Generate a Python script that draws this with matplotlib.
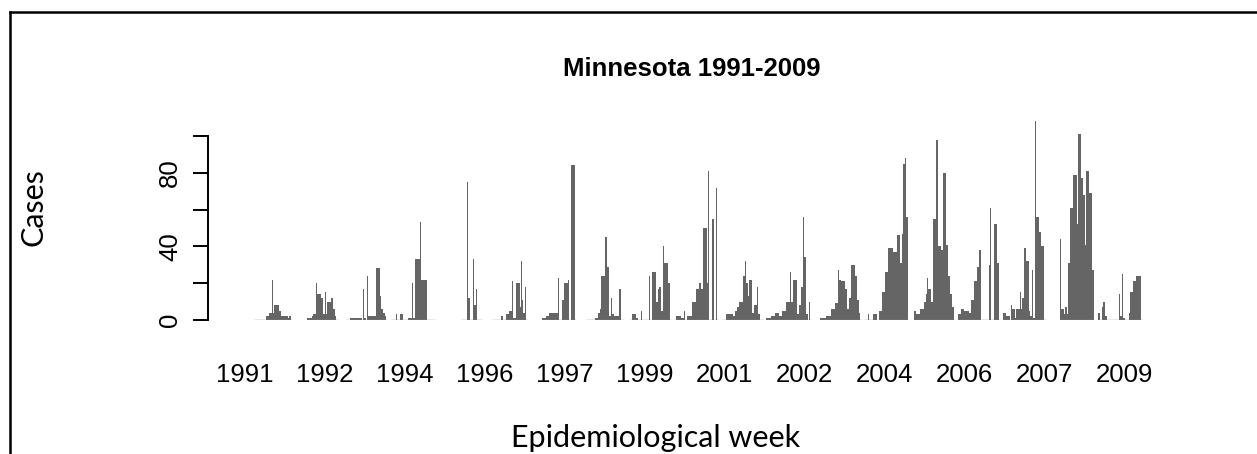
import numpy as np
import matplotlib.pyplot as plt
from matplotlib.lines import Line2D

plt.rcParams['font.family'] = ['Liberation Sans', 'DejaVu Sans']

# weekly influenza cases, one list per season (one value per epidemiological week)
season_01 = [0,0,0,0,0,0,0,0,0,0,0,0,2,2,2,4,4,4,22,4,8,8,8,8,8,5,5,2,2,2,2,2,2,2,1,2,2,0]
season_02 = [1,1,1,1,1,2,3,3,3,20,14,14,14,14,12,12,3,3,15,3,10,10,10,10,12,12,6,6,2,0,0]
season_03 = [0,0,0,0,1,1,1,1,1,1,1,1,1,1,1,1,0,17,1,1,0,24,2,2,2,2,2,2,2,2,28,28,28,28,13,6,6,4,4,2,0]
season_04 = [0,0,0,0,0,3,0,0,0,3,3,3,0,0,0,0,0,1,1,1,1,20,1,1,33,33,33,33,33,53,22,22,22,22,22,22,0,0,0,0,0,0,0,0]
season_05 = [0,0,0,0,0,0,75,12,12,0,0,0,33,8,8,17,0,0,0,0,0]
season_06 = [0,0,0,0,0,0,0,0,0,2,2,0,0,0,3,3,3,5,5,5,21,1,1,1,20,20,20,20,7,32,11,4,4,18,0,0]
season_07 = [1,1,1,1,2,2,2,4,4,4,4,4,4,4,4,4,23,0,0,0,11,11,20,20,20,20,22,0,0,84,84,84,84,0]
season_08 = [0,0,0,0,0,0,0,0,0,1,1,1,4,4,6,24,24,24,24,45,45,29,29,2,2,12,3,3,2,2,2,2,2,17,17,0,0]
season_09 = [0,0,3,3,3,3,1,1,0,0,0,5,0,0,0,0,0,0,0,24,0,0,26,26,26,26,10,10,17,18,18,5,5,40,31,31,31,31,20,20,0]
season_10 = [0,0,2,2,2,2,2,1,1,1,5,0,0,2,2,2,2,2,10,10,10,10,17,17,17,20,20,17,17,50,50,50,50,20,81,0,0,0,55,55,0,0,72,0]
season_11 = [0,0,0,0,0,3,3,3,3,3,3,3,2,2,5,5,7,7,10,10,10,10,24,24,32,20,20,13,22,22,22,4,4,8,8,8,18,3,3,0,0,0]
season_12 = [1,1,1,1,1,2,2,2,2,4,4,4,4,2,2,2,5,5,5,5,10,10,10,10,26,10,10,22,22,22,22,3,3,8,8,18,18,56,34,34,3,3,0,10,0]
season_13 = [1,1,1,1,1,1,2,2,2,2,2,6,6,6,6,9,9,9,27,22,22,21,21,21,21,17,17,6,6,12,12,30,30,30,30,24,24,11,11,4,0]
season_14 = [0,0,0,0,3,0,0,0,0,3,3,3,3,0,0,5,5,5,15,15,15,26,26,26,39,39,39,39,39,37,37,37,37,46,46,46,31,31,47,85,85,88,56,56]
season_15 = [5,5,3,3,3,3,6,6,6,6,10,10,14,23,17,17,17,10,10,55,55,55,98,98,40,40,40,38,38,80,80,80,41,41,24,24,14,14,7,7,0]
season_16 = [3,3,3,6,6,6,5,5,5,5,5,4,4,11,11,11,21,21,21,29,29,38,38,0,0,0,0,0,0,0,0,30,61,0,0,0,52,52,52,31,31,0]
season_17 = [4,4,4,2,2,2,2,0,8,6,6,6,1,6,6,6,6,15,6,12,12,39,39,32,32,32,5,2,2,27,1,1,108,56,56,56,48,48,40,40,40,0,0]
season_18 = [44,6,6,6,3,7,7,3,31,31,61,61,61,79,79,79,79,52,101,101,101,77,77,68,68,41,81,81,81,69,69,69,27,27]
season_19 = [4,4,0,0,7,10,10,2,2,0,0,0,0,0,0,0,0,0,0,0,0,14,2,2,25,1,1,0,0,0,0,4,15,15,15,21,21,21,24,24,24,24,24,0]

seasons = [season_01, season_02, season_03, season_04, season_05, season_06, season_07,
           season_08, season_09, season_10, season_11, season_12, season_13, season_14,
           season_15, season_16, season_17, season_18, season_19]

# week (counted from the first labelled bar) at which reporting starts each season
season_start = [10, 63, 102, 147, 217, 248, 298, 342, 386, 430, 477, 522, 576, 620, 670, 714, 759, 816, 854]

# R only kept every ~80th bar name
year_labels = ['1991', '1992', '1994', '1996', '1997', '1999', '2001', '2002',
               '2004', '2006', '2007', '2009']
label_every = 80

bar_color = '#656565'

fig = plt.figure(figsize=(12.57, 4.54), dpi=100)
ax = fig.add_axes([208 / 1257, (454 - 320) / 454, 968 / 1257, (320 - 117.6) / 454])

for start, vals in zip(season_start, seasons):
    x = start + np.arange(len(vals))
    ax.bar(x, vals, width=1.0, align='edge', color=bar_color, linewidth=0)
    ax.hlines(0, start, start + len(vals), color='#8a8a8a', linewidth=1.0)

ax.set_xlim(-36, 932)
ax.set_ylim(0, 110)

for side in ['top', 'right', 'bottom']:
    ax.spines[side].set_visible(False)
ax.spines['left'].set_bounds(0, 100)
ax.spines['left'].set_linewidth(1.4)

ax.set_yticks([0, 20, 40, 60, 80, 100])
ax.set_yticklabels(['0', '', '40', '', '80', ''])
ax.tick_params(axis='y', length=10.8, width=1.4, labelsize=18.5, labelrotation=90, pad=8)
for lab in ax.get_yticklabels():
    lab.set_verticalalignment('center')

ax.set_xticks(np.arange(len(year_labels)) * label_every + 0.5)
ax.set_xticklabels(year_labels)
ax.tick_params(axis='x', length=0, labelsize=18.5, pad=31)

fig.text(692 / 1257, 1 - 69 / 454, 'Minnesota 1991-2009', ha='center', va='center',
         fontsize=18.5, fontweight='bold')
fig.text(33 / 1257, 1 - 207 / 454, 'Cases', rotation=90, ha='center', va='center',
         fontsize=22, family=['Lato', 'DejaVu Sans'])
fig.text(656 / 1257, 1 - 438 / 454, 'Epidemiological week', ha='center', va='center',
         fontsize=22, family=['Lato', 'DejaVu Sans'])

# frame lines from the pasted figure
fig.add_artist(Line2D([10 / 1257, 1.0], [1 - 12 / 454, 1 - 12 / 454], color='black', linewidth=1.8))
fig.add_artist(Line2D([10 / 1257, 10 / 1257], [1 - 12 / 454, 0.0], color='black', linewidth=1.8))

fig.savefig('out.png', dpi=100)
